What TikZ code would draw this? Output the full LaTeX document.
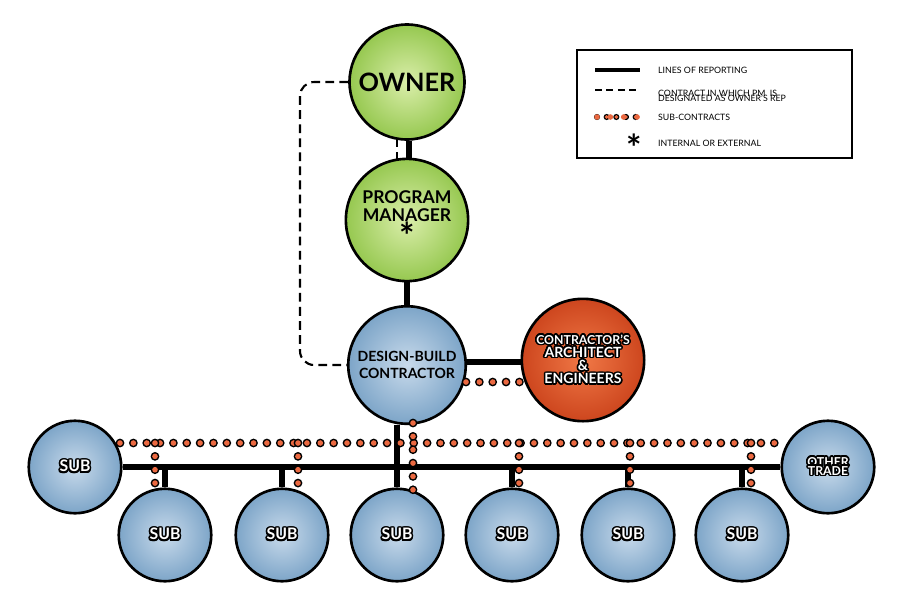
\documentclass[tikz,border=0pt]{standalone}
\usepackage{fontspec}
\setmainfont{Lato}
\usepackage{contour}
\contourlength{0.9pt}
\usetikzlibrary{positioning, backgrounds}
\definecolor{greenA}{RGB}{218,238,170}
\definecolor{greenB}{RGB}{150,200,80}
\definecolor{blueA}{RGB}{200,218,235}
\definecolor{blueB}{RGB}{125,165,200}
\definecolor{orangeA}{RGB}{240,120,70}
\definecolor{orangeB}{RGB}{205,70,30}
\definecolor{dotfill}{RGB}{235,105,65}
\tikzset{%
	green circle/.style={
		circle, draw, line width=1.5pt, minimum size=2.3cm,
		inner color=greenA, outer color=greenB,
		font=\bfseries, align=center
	},
	blue circle/.style={
		circle, draw, line width=1.5pt, minimum size=1.85cm,
		inner color=blueA, outer color=blueB,
		font=\bfseries\small, align=center
	},
	report/.style={line width=3.5pt},
	subline/.style={
		line width=5pt, line cap=round, dash pattern=on 0pt off 7.6pt,
		postaction={draw=dotfill, line width=3.2pt, line cap=round, dash pattern=on 0pt off 7.6pt}
	},
	pmline/.style={line width=1.2pt, dash pattern=on 5pt off 3pt},
}
\newcommand{\subtext}[1]{{\color{white}\contour{black}{#1}}}

\begin{document}
\begin{tikzpicture}[x=0.02cm,y=-0.02cm]
			\useasboundingbox (0,0) rectangle (897,606);
			
			% Circles
			\node[green circle] (owner) at (407,82) {\Large OWNER};
			\node[green circle] (pm) at (407,220) {PROGRAM\\[-2pt]MANAGER\\[-1pt]{\huge *}};
			\node[blue circle, minimum size=2.35cm, font=\bfseries\footnotesize] (dbc) at (407,365) {DESIGN-BUILD\\CONTRACTOR};
			\node[circle, draw, line width=1.5pt, minimum size=2.3cm, inner color=orangeA, outer color=orangeB, font=\bfseries\footnotesize, align=center] (arch) at (583,360) {\subtext{\scriptsize CONTRACTOR'S}\\[-2pt]\subtext{ARCHITECT}\\[-2pt]\subtext{\&}\\[-2pt]\subtext{ENGINEERS}};
			\node[blue circle] (subL) at (75,467) {\subtext{SUB}};
			\node[blue circle, font=\bfseries\scriptsize] (other) at (828,467) {\subtext{OTHER}\\[-3pt]\subtext{TRADE}};
			\foreach \x/\n in {165/1,282/2,397/3,512/4,628/5,742/6}
				\node[blue circle] (sub\n) at (\x,535) {\subtext{SUB}};
			
			% Dashed PM contract
			\draw[pmline, rounded corners=8pt] (owner.west) -| (300,300) |- (dbc.west);
			\draw[pmline] (397,138) -- (397,163);
			
			% Lines of reporting
			\begin{scope}[on background layer]
			\draw[report] (owner.south -| 409,0) -- (pm.north -| 409,0);
			\draw[report] (pm) -- (dbc);
			\draw[report] (dbc.east |- 0,362) -- (arch.west |- 0,362);
			\coordinate (busL) at (subL.east);
			\coordinate (busR) at (other.west);
			\draw[report] (busL) -- (busR);
			\draw[report] (dbc.south -| 397,0) -- (sub3.north);
			\foreach \x/\n in {165/1,282/2,512/4,628/5,742/6}
				\draw[report] (sub\n.north -| \x,0) -- (\x,466);
			\end{scope}
			
			% Sub-contracts
			\draw[subline] (120,443) -- (785,443);
			\draw[subline] (466,382) -- (526,382);
			\draw[subline] (413,423) -- (413,490);
			\foreach \x in {155,298,519,630,751}
				\draw[subline] (\x,443) -- (\x,490);
			
			% Legend
			\draw[line width=0.6pt] (577,50) rectangle (852,158);
			\draw[line width=2.5pt] (595,70) -- (640,70);
			\node[anchor=west, font=\tiny] (l1) at (652,70) {LINES OF REPORTING};
			\draw[line width=1pt, dash pattern=on 4pt off 2.5pt] (595,90) -- (640,90);
			\node[anchor=west, font=\tiny, align=left] (l2) at (652,96) {CONTRACT IN WHICH PM\ \ IS\\[-3pt]DESIGNATED AS OWNER'S REP};
			\draw[subline, line width=3.5pt, dash pattern=on 0pt off 5.5pt, postaction={draw=dotfill, line width=2.2pt, line cap=round, dash pattern=on 0pt off 5.5pt}] (597,117) -- (640,117);
			\node[anchor=west, font=\tiny] (l3) at (652,117) {SUB-CONTRACTS};
			\node[font=\huge\bfseries] (star) at (634,148) {*};
			\node[anchor=west, font=\tiny] (l4) at (652,143) {INTERNAL OR EXTERNAL};
		\end{tikzpicture}
\end{document}
